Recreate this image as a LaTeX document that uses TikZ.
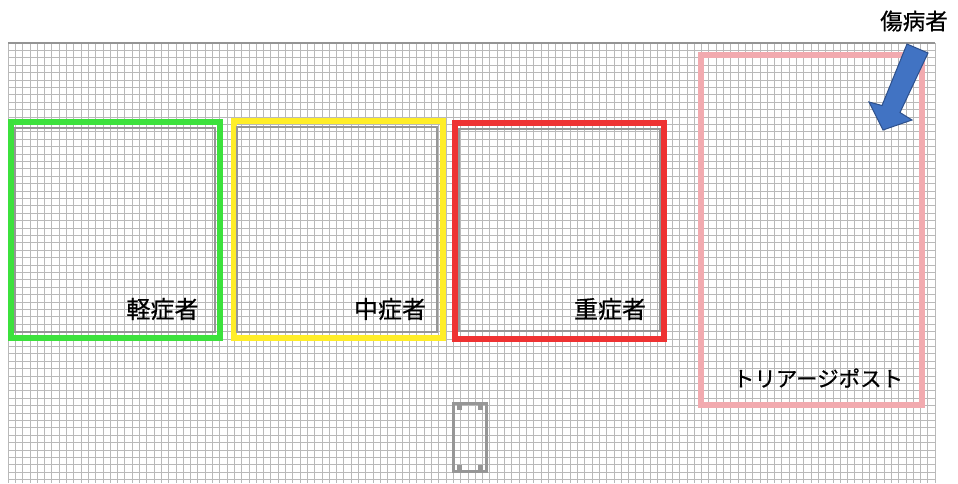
\documentclass[tikz,border=0pt]{standalone}
\usepackage{fontspec}
\setmainfont{Noto Sans CJK JP}[FakeBold=0.6]
\definecolor{gridc}{RGB}{185,185,185}
\definecolor{innerc}{RGB}{150,150,150}
\definecolor{cgreen}{RGB}{60,225,60}
\definecolor{cyellow}{RGB}{255,238,40}
\definecolor{cred}{RGB}{238,50,50}
\definecolor{cpink}{RGB}{242,170,175}
\definecolor{cblue}{RGB}{65,115,195}
\definecolor{cbluedark}{RGB}{45,80,140}
\tikzset{
  gridline/.style={draw=gridc, line width=0.65pt},
  zonebox/.style={line width=6pt},
  innerbox/.style={draw=innerc, line width=2pt},
  lbl/.style={font=\fontsize{24}{24}\selectfont, inner sep=0pt, text=black},
}
\begin{document}
\begin{tikzpicture}[x=1pt,y=-1pt]
\useasboundingbox (0,0) rectangle (958,483);
\fill[white] (0,0) rectangle (958,483);
% grid
\foreach \i in {0,...,127} \draw[gridline] ({8+7.3*\i},43) -- ({8+7.3*\i},483);
\foreach \j in {0,...,59} \draw[gridline] (8,{43+7.4*\j}) -- (935,{43+7.4*\j});
\draw[draw=gridc!80!black, line width=1.4pt] (8,43) -- (935,43);
% zone boxes
\draw[zonebox, cgreen] (10.5,121.5) rectangle (220,338);
\draw[innerbox] (15,128) rectangle (215,332);
\draw[zonebox, cyellow] (233.5,120.5) rectangle (442.5,338);
\draw[innerbox] (237,127) rectangle (437,332);
\draw[zonebox, cred] (455,122.5) rectangle (664,339);
\draw[innerbox] (459,129) rectangle (660,331);
\draw[zonebox, cpink] (701,55) rectangle (921.5,404.5);
% small rectangle
\draw[innerbox, line width=2.5pt] (453.5,403.5) rectangle (486.5,471.5);
\fill[innerc] (457,405) rectangle (462,410);
\fill[innerc] (478,405) rectangle (483,410);
\fill[innerc] (457,465) rectangle (462,470);
\fill[innerc] (478,465) rectangle (483,470);
% labels
\node[lbl] (light) at (162.5,309) {軽症者};
\node[lbl] (mid) at (390,309) {中症者};
\node[lbl] (heavy) at (610,309) {重症者};
\node[lbl, font=\fontsize{21.5}{21.5}\selectfont] (post) at (818,378) {トリアージポスト};
\node[lbl, font=\fontsize{22.5}{22.5}\selectfont] (victim) at (914,21) {傷病者};
% arrow
\filldraw[fill=cblue, draw=cbluedark, line width=1pt, line join=miter]
  (907,44) -- (928,53) -- (900,112.5) -- (912,120) -- (883,130) -- (869,102) -- (882,105.5) -- cycle;
\end{tikzpicture}
\end{document}
